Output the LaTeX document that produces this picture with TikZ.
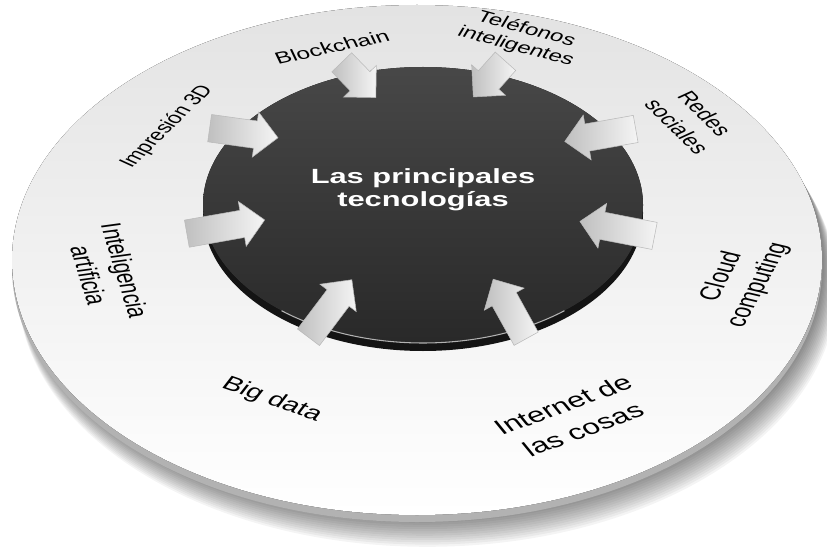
\documentclass[tikz,border=0pt]{standalone}
\usepackage{fontspec}
\setmainfont{Liberation Sans}
\usetikzlibrary{shapes.arrows}

\begin{document}
\begin{tikzpicture}[x=0.02cm,y=-0.02cm,
    flecha/.style={single arrow,draw=gray!55,line width=0.3pt,left color=gray!50,right color=gray!8,
      single arrow head extend=0.18cm,inner xsep=0pt,inner ysep=0.27cm},
    etiqueta/.style={align=center,inner sep=0pt,rotate={atan(1.5*tan(#1))}}]
  \useasboundingbox (0,0) rectangle (827,547);
  \foreach \k in {1,...,14}
    \fill[black,opacity=0.045] (419+0.6*\k,262+1.8*\k) ellipse [x radius=404+0.4*\k,y radius=254+0.4*\k];
  \fill[gray!60] (417,267) ellipse [x radius=405,y radius=255];
  \fill[top color=gray!22,bottom color=white] (417,260) ellipse [x radius=405,y radius=255];
  \fill[black!92] (423,213) ellipse [x radius=220,y radius=138];
  \fill[top color=black!72,bottom color=black!84] (423,205) ellipse [x radius=220,y radius=138];
  \draw[gray!60,line width=0.6pt] (423,205) ++(50:220 and 138) arc [start angle=50,end angle=130,x radius=220,y radius=138];
  \foreach \px/\py/\ang/\largo [count=\i] in {354/75/-46/49, 494/74/228/48, 607/134/190/72, 624/230/169/76,
      513/315/119/68, 326/314/53/72, 219/228/10/79, 237/132/-8/69}
    \node[flecha,minimum height=\largo*0.02cm,rotate=\ang] (f\i) at (\px,\py) {};
  \begin{scope}[xscale=1.5,x=0.013333cm,transform shape]
    \node[etiqueta=0,white,font=\bfseries\fontsize{11.7}{13}\selectfont] (titulo) at (423,190) {Las principales\\tecnologías};
    \node[etiqueta=12,font=\fontsize{9.3}{11}\selectfont] (blockchain) at (332,47) {Blockchain};
    \node[etiqueta=-15,font=\fontsize{9.2}{10.6}\selectfont] (telefonos) at (521,38) {Teléfonos\\inteligentes};
    \node[etiqueta=-44,font=\fontsize{9.7}{12.8}\selectfont] (redes) at (691,120) {Redes\\sociales};
    \node[etiqueta=62,font=\fontsize{11}{14.6}\selectfont] (cloud) at (740,281) {Cloud\\computing};
    \node[etiqueta=20,font=\fontsize{12}{16}\selectfont] (internet) at (573,417) {Internet de\\las cosas};
    \node[etiqueta=-19,font=\fontsize{11.2}{13}\selectfont] (bigdata) at (272,400) {Big data};
    \node[etiqueta=-73,font=\fontsize{10.8}{14}\selectfont] (ia) at (107,273) {Inteligencia\\artificia};
    \node[etiqueta=44,font=\fontsize{9.2}{11}\selectfont] (impresion) at (167,127) {Impresión 3D};
  \end{scope}
\end{tikzpicture}
\end{document}
